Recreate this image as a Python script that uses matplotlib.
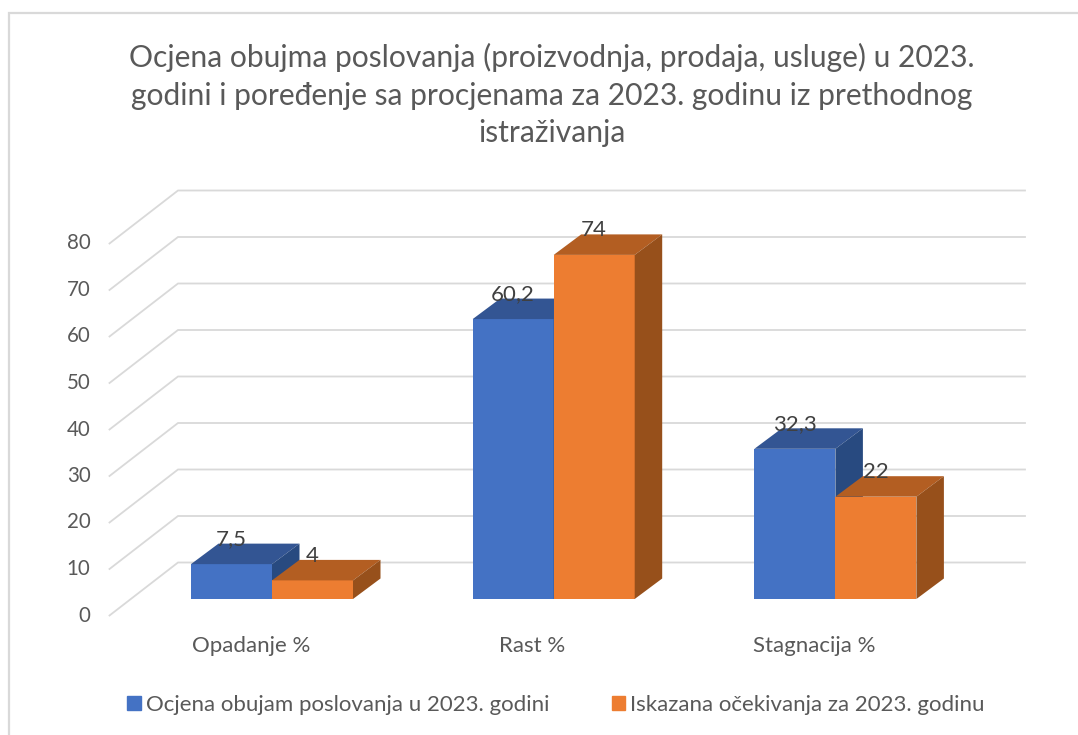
import matplotlib
matplotlib.use("Agg")
import matplotlib.pyplot as plt
from matplotlib.patches import Polygon, Patch

plt.rcParams['font.family'] = ['Lato', 'DejaVu Sans']

categories = ["Opadanje %", "Rast %", "Stagnacija %"]
ocjena = [7.5, 60.2, 32.3]
ocekivanja = [4, 74, 22]
ocjena_labels = ["7,5", "60,2", "32,3"]
ocekivanja_labels = ["4", "74", "22"]
ticks = [0, 10, 20, 30, 40, 50, 60, 70, 80]
series_names = ["Ocjena obujam poslovanja u 2023. godini", "Iskazana očekivanja za 2023. godinu"]
title = "Ocjena obujma poslovanja (proizvodnja, prodaja, usluge) u 2023.\ngodini i poređenje sa procjenama za 2023. godinu iz prethodnog\nistraživanja"

W, H = 1078, 735
px_x = 281.7   # pixels per category
px_y = 4.65    # pixels per unit
x0 = 272.0     # pixel of first category centre
y0 = 562.5     # pixel of value 0 on the back wall

fig = plt.figure(figsize=(W/100, H/100), dpi=100)
ax = fig.add_axes([0, 0, 1, 1])
ax.set_xlim(-x0/px_x, (W-x0)/px_x)
ax.set_ylim((y0-H)/px_y, y0/px_y)
ax.axis("off")

# oblique offsets, in data units
wall_dx, wall_dy = 68.5/px_x, 53/px_y
bar_w = 81/px_x
bar_dx, bar_dy = 27.5/px_x, 20.5/px_y
front_dy = 36.5/px_y  # bar front relative to back wall
back_left = (178-x0)/px_x
back_right = (1025-x0)/px_x

grid_col = "#d9d9d9"
for t in ticks:
    ax.plot([back_left-wall_dx, back_left, back_right], [t-wall_dy, t, t], color=grid_col, lw=1.3, zorder=1, solid_joinstyle="miter")
    ax.text(back_left-wall_dx-19/px_x, t-wall_dy, str(t), ha="right", va="center", fontsize=14.8, color="#595959")

def bar3d(x, v, front, top, side, zorder):
    base = -front_dy
    ax.bar(x, v, width=bar_w, bottom=base, align="edge", color=front, zorder=zorder)
    tp = v+base
    ax.add_patch(Polygon([(x, tp), (x+bar_dx, tp+bar_dy), (x+bar_w+bar_dx, tp+bar_dy), (x+bar_w, tp)], color=top, lw=0, zorder=zorder))
    ax.add_patch(Polygon([(x+bar_w, base), (x+bar_w+bar_dx, base+bar_dy), (x+bar_w+bar_dx, tp+bar_dy), (x+bar_w, tp)], color=side, lw=0, zorder=zorder))

for i in range(len(categories)):
    bar3d(i-bar_w, ocjena[i], "#4472c4", "#335593", "#284a80", 2)
    bar3d(i, ocekivanja[i], "#ed7d31", "#b35e22", "#97501b", 3)
    ax.text(i-bar_w+0.142, ocjena[i]-front_dy+bar_dy+0.9, ocjena_labels[i], ha="center", va="center", fontsize=16, color="#404040", zorder=5)
    ax.text(i+0.142, ocekivanja[i]-front_dy+bar_dy+0.9, ocekivanja_labels[i], ha="center", va="center", fontsize=16, color="#404040", zorder=5)
    ax.text(i-0.075, (y0-646.5)/px_y, categories[i], ha="center", va="center", fontsize=16, color="#595959")

ax.text((552-x0)/px_x, (y0-95)/px_y, title, ha="center", va="center", fontsize=21.6, color="#595959", linespacing=1.43)

# chart frame, cut off by the screenshot on the right and at the bottom
fx = (9.5-x0)/px_x
fy = (y0-12.5)/px_y
ax.plot([fx, fx, ax.get_xlim()[1]], [ax.get_ylim()[0], fy, fy], color="#d9d9d9", lw=1.6, zorder=0, solid_joinstyle="miter")

handles = [Patch(color="#4472c4", label=series_names[0]), Patch(color="#ed7d31", label=series_names[1])]
ax.legend(handles=handles, ncols=2, loc="center", bbox_to_anchor=(556/W, 1-705/H), frameon=False, fontsize=16,
          labelcolor="#595959", handlelength=0.6, handleheight=0.6, handletextpad=0.23, columnspacing=2.8, borderpad=0)

fig.savefig("out.png", dpi=100)
